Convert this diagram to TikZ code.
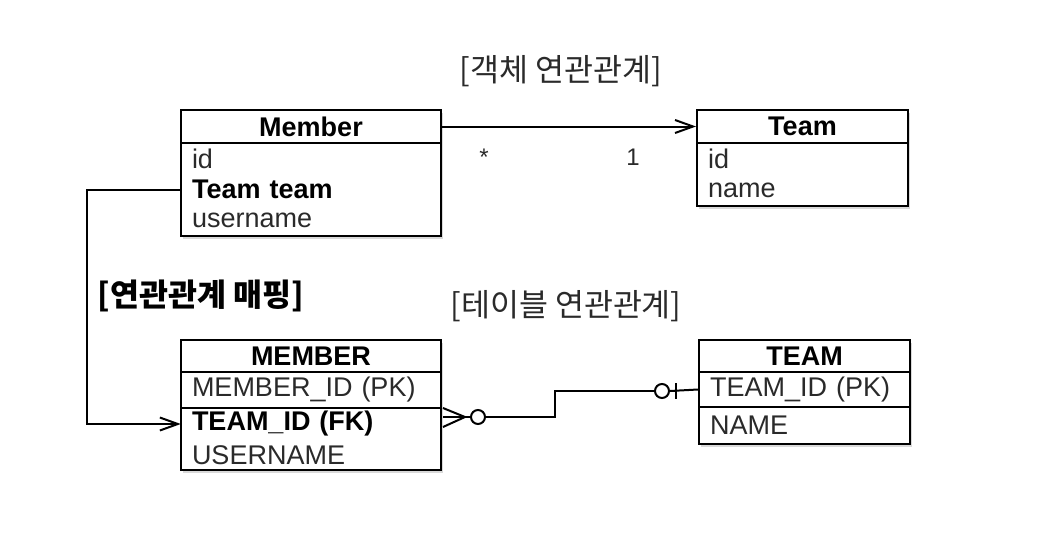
\documentclass[tikz,border=0pt]{standalone}
\usepackage{fontspec}
\setmainfont{Liberation Sans}
\newfontfamily\kr{Noto Sans CJK KR}
\usetikzlibrary{shadows,arrows.meta}
\definecolor{txt}{HTML}{2A2A2A}
\tikzset{
  ent/.style={draw, line width=2pt, fill=white, drop shadow={opacity=0.3, shadow xshift=2pt, shadow yshift=-3pt}},
  hdr/.style={draw, line width=2pt, font=\fontsize{27}{27}\selectfont\bfseries, inner sep=0pt},
  attr/.style={inner ysep=0pt, inner xsep=11pt, align=left, font=\fontsize{27}{27}\selectfont, text=txt},
  attrb/.style={attr, font=\fontsize{27}{27}\selectfont\bfseries, text=black},
  ttl/.style={font=\kr\fontsize{31.5}{31.5}\selectfont, text=txt},
  lnk/.style={line width=2pt},
  barb/.style={-{Straight Barb[length=18pt,width=13pt,line width=2pt]}},
  ring/.style={circle, draw, line width=2pt, minimum size=14pt, inner sep=0pt, fill=white}
}
\begin{document}
\begin{tikzpicture}[x=1pt,y=-1pt]
\useasboundingbox (0,0) rectangle (1061,554);
% object model
\node[ent, minimum width=260pt, minimum height=126pt] (memberBox) at (311,173) {};
\node[hdr, minimum width=260pt, minimum height=33pt] (memberH) at (311,126.5) {Member};
\node[attr, text width=238pt] (mId) at (311,158.5) {id};
\node[attrb, text width=238pt] (mTeam) at (311,189.5) {Team team};
\node[attr, text width=238pt] (mUser) at (311,220.5) {username};

\node[ent, minimum width=211pt, minimum height=96pt] (teamBox) at (802.5,158) {};
\node[hdr, minimum width=211pt, minimum height=33pt] (teamH) at (802.5,126.5) {Team};
\node[attr, text width=189pt] (tId) at (802.5,158.75) {id};
\node[attr, text width=189pt] (tName) at (802.5,190.25) {name};

\draw[lnk, barb] (memberH.east) -- (teamH.west);
\node[font=\fontsize{24}{24}\selectfont, text=txt] (many) at (484,157) {*};
\node[font=\fontsize{24}{24}\selectfont, text=txt] (one) at (633,157) {1};

\node[ttl] (objTitle) at (561,71) {[객체 연관관계]};
\node[ttl, font=\kr\fontsize{31.5}{31.5}\selectfont\bfseries, text=black] (mapTitle) at (201,296) {[연관관계 매핑]};
\node[ttl] (tblTitle) at (566,306) {[테이블 연관관계]};

% table model
\node[ent, minimum width=260pt, minimum height=130pt] (MEMBERBox) at (311,405) {};
\node[hdr, minimum width=260pt, minimum height=32pt] (MEMBERH) at (311,356) {MEMBER};
\node[attr, draw, line width=2pt, minimum width=260pt, minimum height=36pt, text width=238pt] (MId) at (311,390) {MEMBER\_ID (PK)};
\node[attrb, text width=238pt] (MTeam) at (311,424) {TEAM\_ID (FK)};
\node[attr, text width=238pt] (MUser) at (311,455) {USERNAME};

\node[ent, minimum width=211pt, minimum height=104pt] (TEAMBox) at (804.5,392) {};
\node[hdr, minimum width=211pt, minimum height=32pt] (TEAMH) at (804.5,356) {TEAM};
\node[attr, draw, line width=2pt, minimum width=211pt, minimum height=35pt, text width=189pt] (TId) at (804.5,389.5) {TEAM\_ID (PK)};
\node[attr, text width=189pt] (TName) at (804.5,425.5) {NAME};

% mapping arrow
\draw[lnk, barb] (mTeam.west) -- ++(-94,0) |- (MTeam.west);

% ER relation
\coordinate (cfTop) at (443,408);
\coordinate (cfMid) at (443,417);
\coordinate (cfBot) at (443,427);
\coordinate (cfTip) at (465,417);
\draw[lnk] (cfTop) -- (cfTip) -- (cfBot);
\draw[lnk] (cfMid) -- (cfTip);
\node[ring] (c1) at (478,417) {};
\node[ring] (c2) at (662,391) {};
\draw[lnk] (cfTip) -- (c1.west);
\draw[lnk] (c1.east) -- ++(69,0) |- (c2.west);
\draw[lnk] (c2.east) -- (TId.west);
\coordinate (barT) at (676,383);
\coordinate (barB) at (676,399);
\draw[lnk] (barT) -- (barB);
\end{tikzpicture}
\end{document}
